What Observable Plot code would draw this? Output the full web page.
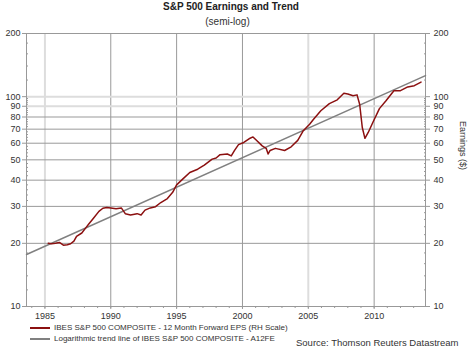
<!DOCTYPE html>
<html><head><meta charset="utf-8">
<script src="https://cdn.jsdelivr.net/npm/d3@7"></script>
<script src="https://cdn.jsdelivr.net/npm/@observablehq/plot@0.6"></script>
<style>
body{margin:0;background:#fff;font-family:"Liberation Sans",Arial,sans-serif;}
#wrap{position:relative;width:474px;height:352px;overflow:hidden;}
#wrap svg{position:absolute;left:0;top:0;}
.t{position:absolute;white-space:nowrap;color:#333;}
.leg{position:absolute;left:30px;font-size:8px;color:#333;display:flex;align-items:center;white-space:nowrap;}
.leg span.sw{display:inline-block;width:20px;height:0;border-top:2px solid;margin-right:4px;}
</style></head>
<body><div id="wrap"></div>
<script>
const years = [1985.25,1985.5,1985.8,1986.1,1986.4,1986.7,1986.95,1987.2,1987.4,1987.8,1988.1,1988.3,1988.7,1989.1,1989.4,1989.7,1990.0,1990.4,1990.8,1991.1,1991.5,1992.0,1992.3,1992.6,1993.0,1993.4,1993.8,1994.3,1994.7,1995.0,1995.5,1996.0,1996.6,1997.1,1997.7,1998.0,1998.3,1998.85,1999.15,1999.4,1999.7,2000.1,2000.5,2000.8,2001.1,2001.5,2001.8,2001.95,2002.1,2002.5,2003.2,2003.7,2004.2,2004.6,2005.1,2005.4,2005.95,2006.6,2007.2,2007.7,2008.0,2008.4,2008.7,2008.9,2009.1,2009.3,2009.55,2009.9,2010.4,2010.9,2011.5,2012.0,2012.55,2013.05,2013.56];
const eps = [20.0,19.9,20.0,20.2,19.6,19.7,19.9,20.5,21.6,22.4,23.7,24.6,26.4,28.4,29.4,29.6,29.5,29.2,29.5,27.7,27.3,27.7,27.3,28.8,29.5,29.9,31.3,32.7,35.0,38.0,40.7,43.5,45.1,47.2,50.4,51.0,52.9,53.3,52.2,55.5,59.1,60.5,63.0,64.3,61.6,58.3,56.7,53.3,55.4,56.7,55.4,57.7,61.9,68.6,73.9,78.1,85.7,92.6,96.6,103.8,103,101,102,92,71.3,63.3,67.5,75.3,87.7,95.7,106.8,106.8,111.3,112.8,117.4];
const trendYears = [1983.6, 2013.9];
const trendValues = [17.7, 126];
const xTicks = [1985,1990,1995,2000,2005,2010];
const xMinor = d3.range(1984, 2014);
const yTicks = [10,20,30,40,50,60,70,80,90,100,200];
const yMinor = [12,14,16,18,22,24,26,28,32,34,36,38,42,44,46,48,52,54,56,58,62,64,66,68,72,74,76,78,82,84,86,88,92,94,96,98,120,140,160,180];
const title = "S&P 500 Earnings and Trend";
const subtitle = "(semi-log)";
const yLabel = "Earnings ($)";
const legend1 = "IBES S&P 500 COMPOSITE - 12 Month Forward EPS (RH Scale)";
const legend2 = "Logarithmic trend line of IBES S&P 500 COMPOSITE - A12FE";
const source = "Source: Thomson Reuters Datastream";

const series = years.map((y,i)=>({year:y, v:eps[i]}));
const trend = trendYears.map((y,i)=>({year:y, v:trendValues[i]}));
const lightX = [1985, 2005], lightY = [90, 100];

const chart = Plot.plot({
  width: 474, height: 352,
  marginLeft: 26, marginRight: 49, marginTop: 33, marginBottom: 46,
  x: {domain: [1983.6, 2013.9], label: null},
  y: {type: "log", domain: [10, 200], label: null},
  style: {fontFamily: "Liberation Sans, Arial, sans-serif", fontSize: "9px", color: "#333", background: "#fff"},
  marks: [
    Plot.ruleX(xTicks.filter(d => !lightX.includes(d)), {stroke: "#999", strokeWidth: 1}),
    Plot.ruleX(xTicks.filter(d => lightX.includes(d)), {stroke: "#ddd", strokeWidth: 2}),
    Plot.ruleY(yTicks.filter(d => !lightY.includes(d) && d !== 10 && d !== 200), {stroke: "#999", strokeWidth: 1}),
    Plot.ruleY(yTicks.filter(d => lightY.includes(d)), {stroke: "#ddd", strokeWidth: 2}),
    Plot.frame({stroke: "#999"}),
    Plot.axisX({ticks: xMinor, tickSize: 2, tickFormat: () => "", stroke: "#999", label: null}),
    Plot.axisX({ticks: xTicks, tickSize: 3, tickPadding: 3, tickFormat: d => String(d), stroke: "#999", label: null}),
    Plot.axisY({anchor: "left", ticks: yMinor, tickSize: -2, tickFormat: () => "", stroke: "#999", label: null}),
    Plot.axisY({anchor: "right", ticks: yMinor, tickSize: -2, tickFormat: () => "", stroke: "#999", label: null}),
    Plot.axisY({anchor: "left", ticks: yTicks, tickSize: 4, tickPadding: 2, tickFormat: d => String(d), stroke: "#999", label: null}),
    Plot.axisY({anchor: "right", ticks: yTicks, tickSize: 4, tickPadding: 4, tickFormat: d => String(d), stroke: "#999", label: null}),
    Plot.text([yLabel], {frameAnchor: "right", rotate: 90, dx: 37, fill: "#333", fontSize: 9}),
    Plot.line(trend, {x: "year", y: "v", stroke: "#808080", strokeWidth: 1.5}),
    Plot.line(series, {x: "year", y: "v", stroke: "#8b1010", strokeWidth: 1.5})
  ]
});
const wrap = document.getElementById("wrap");
wrap.appendChild(chart);
function addText(txt, css){const d=document.createElement("div");d.className="t";d.textContent=txt;Object.assign(d.style,css);wrap.appendChild(d);return d;}
addText(title, {left:"0px", width:"462px", textAlign:"center", top:"1px", fontSize:"10px", fontWeight:"bold", color:"#222"});
addText(subtitle, {left:"0px", width:"455px", textAlign:"center", top:"16px", fontSize:"10px"});
addText(source, {left:"296px", top:"337px", fontSize:"9.5px"});
function addLeg(txt, color, top){const d=document.createElement("div");d.className="leg";d.style.top=top+"px";const s=document.createElement("span");s.className="sw";s.style.borderColor=color;d.appendChild(s);d.appendChild(document.createTextNode(txt));wrap.appendChild(d);}
addLeg(legend1, "#8b1010", 323);
addLeg(legend2, "#808080", 334);
</script></body></html>
